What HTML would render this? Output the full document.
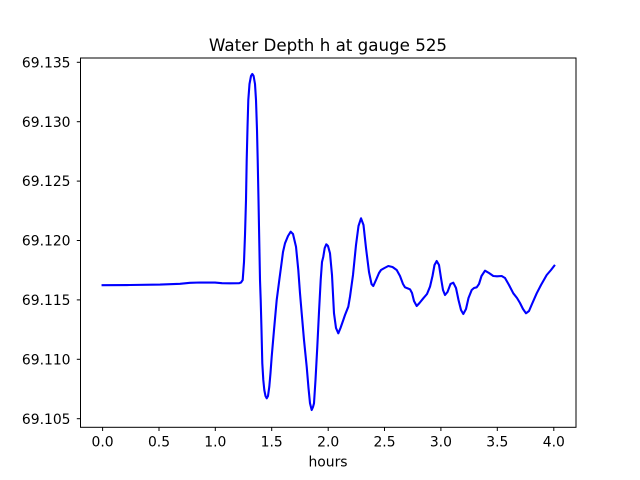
<!DOCTYPE html>
<html>
<head>
<meta charset="utf-8">
<style>
  html, body { margin: 0; padding: 0; background: #ffffff; }
  svg { display: block; }
  text { font-family: "DejaVu Sans", "Liberation Sans", sans-serif; fill: #000; }
</style>
</head>
<body>
<svg width="640" height="480" viewBox="0 0 640 480" xmlns="http://www.w3.org/2000/svg">
  <rect x="0" y="0" width="640" height="480" fill="#ffffff"/>

  <!-- data line -->
  <polyline fill="none" stroke="#0000ff" stroke-width="2.1" stroke-linejoin="round" stroke-linecap="square"
    points="102.6,285.2 130,285 160,284.6 180,283.8 190,282.8 200,282.5 215,282.6 222,283.2 230,283.3 239,283.2 241,282.5 242.7,280 244,262 245,235 246,200 246.7,160 247.5,128 248.3,100 249.5,84 251,76 252.3,74 253.6,76 255,84 256,100 257,130 257.7,160 258.5,200 259.3,243 260,280 260.7,300 261.5,330 262.3,363.3 263.3,380 264.3,390 265.5,396 266.7,398.3 268,396 269.3,386.7 270.5,373 271.7,356.7 274,330 276.7,300 279.3,280 281.7,262 283,252 285,243.3 288,236 290.7,231.7 293,234 296,246.7 298.3,270 300,293.3 301.7,313.3 304,340 306.7,366.7 308.5,388 310,403.3 311.7,410 313,407 314,403.3 315.5,380 317.3,346.7 319,312 320.7,280 322,262 323.3,256.7 324.7,248 326.3,244.3 328,246 330,253.3 332,275 333.3,300 334,313.3 336,328 338.3,333.3 340.5,328 343.3,320 345,315 348.3,306.7 350,296.7 353,275 356,245 358.5,226 361,218.3 363.5,225 366,248 369,272 371.5,284 373.3,286 376,280 379,273 381,270 384.5,268 388.3,266 392.5,267 396.7,270 400,276 403,284 405,287.3 408,288.5 410,289.3 412,293 414,301 416.7,306 419.5,303 423.3,298.3 427,294 430,286.7 432.5,276 434.5,265 436.7,261 439,265 441,278 443,290 445,295 447.5,292 450.5,284 453.3,282.7 456,288 458.5,300 461,310 463.3,314 466,309 468.5,298 471.7,290 474,288 476.7,287.3 479,284 481.5,276 485,270.7 489,273 493.3,276 497,276.3 501.7,276 505,278 509,285 513.3,293.3 517,298 520,303 523,309 526,313.3 529,311 532,304 536.7,293.3 541,285 546.7,275 551,270 554.3,265.7"/>

  <!-- axes frame -->
  <rect x="80.5" y="58" width="495.5" height="369.3" fill="none" stroke="#000" stroke-width="1"/>

  <!-- x ticks -->
  <g stroke="#000" stroke-width="1">
    <line x1="102.6" y1="427.3" x2="102.6" y2="431"/>
    <line x1="159" y1="427.3" x2="159" y2="431"/>
    <line x1="215.3" y1="427.3" x2="215.3" y2="431"/>
    <line x1="271.7" y1="427.3" x2="271.7" y2="431"/>
    <line x1="328.2" y1="427.3" x2="328.2" y2="431"/>
    <line x1="384.5" y1="427.3" x2="384.5" y2="431"/>
    <line x1="440.9" y1="427.3" x2="440.9" y2="431"/>
    <line x1="497.3" y1="427.3" x2="497.3" y2="431"/>
    <line x1="553.8" y1="427.3" x2="553.8" y2="431"/>
  </g>
  <g font-size="13.9" text-anchor="middle">
    <text x="102.6" y="446.7">0.0</text>
    <text x="159" y="446.7">0.5</text>
    <text x="215.3" y="446.7">1.0</text>
    <text x="271.7" y="446.7">1.5</text>
    <text x="328.2" y="446.7">2.0</text>
    <text x="384.5" y="446.7">2.5</text>
    <text x="440.9" y="446.7">3.0</text>
    <text x="497.3" y="446.7">3.5</text>
    <text x="553.8" y="446.7">4.0</text>
  </g>

  <!-- y ticks -->
  <g stroke="#000" stroke-width="1">
    <line x1="76.8" y1="418.7" x2="80.5" y2="418.7"/>
    <line x1="76.8" y1="359.3" x2="80.5" y2="359.3"/>
    <line x1="76.8" y1="299.9" x2="80.5" y2="299.9"/>
    <line x1="76.8" y1="240.5" x2="80.5" y2="240.5"/>
    <line x1="76.8" y1="181.1" x2="80.5" y2="181.1"/>
    <line x1="76.8" y1="121.7" x2="80.5" y2="121.7"/>
    <line x1="76.8" y1="62.3" x2="80.5" y2="62.3"/>
  </g>
  <g font-size="13.9" text-anchor="end">
    <text x="70.5" y="423.8">69.105</text>
    <text x="70.5" y="364.4">69.110</text>
    <text x="70.5" y="305">69.115</text>
    <text x="70.5" y="245.6">69.120</text>
    <text x="70.5" y="186.2">69.125</text>
    <text x="70.5" y="126.8">69.130</text>
    <text x="70.5" y="67.4">69.135</text>
  </g>

  <!-- labels -->
  <text x="328" y="466.7" font-size="13.9" text-anchor="middle">hours</text>
  <text x="328" y="51" font-size="16.7" text-anchor="middle">Water Depth h at gauge 525</text>
</svg>
</body>
</html>
